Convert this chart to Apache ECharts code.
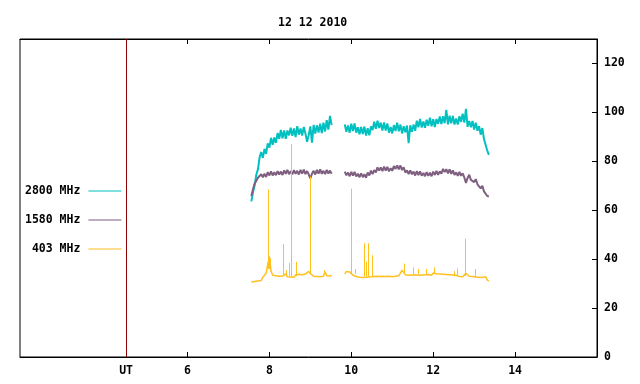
<!DOCTYPE html>
<html>
<head>
<meta charset="utf-8">
<script src="https://cdn.jsdelivr.net/npm/echarts@6/dist/echarts.min.js"></script>
<style>
  html, body { margin: 0; padding: 0; background: #fff; }
  #chart { width: 640px; height: 384px; }
</style>
</head>
<body>
<div id="chart"></div>
<script>
// Tempo (horas UT); null separa os dois trechos de observação
const hours = [
  7.56, 7.60, 7.64, 7.68, 7.72, 7.76, 7.80, 7.84, 7.88, 7.92,
  7.96, 8.00, 8.04, 8.08, 8.12, 8.16, 8.20, 8.24, 8.28, 8.32,
  8.36, 8.40, 8.44, 8.48, 8.52, 8.56, 8.60, 8.64, 8.68, 8.72,
  8.76, 8.80, 8.84, 8.88, 8.92, 8.96, 9.00, 9.04, 9.08, 9.12,
  9.16, 9.20, 9.24, 9.28, 9.32, 9.36, 9.40, 9.44, 9.48, 9.52,
  9.68,
  9.84, 9.88, 9.92, 9.96, 10.00, 10.04, 10.08, 10.12, 10.16, 10.20,
  10.24, 10.28, 10.32, 10.36, 10.40, 10.44, 10.48, 10.52, 10.56, 10.60,
  10.64, 10.68, 10.72, 10.76, 10.80, 10.84, 10.88, 10.92, 10.96, 11.00,
  11.04, 11.08, 11.12, 11.16, 11.20, 11.24, 11.28, 11.32, 11.36, 11.40,
  11.44, 11.48, 11.52, 11.56, 11.60, 11.64, 11.68, 11.72, 11.76, 11.80,
  11.84, 11.88, 11.92, 11.96, 12.00, 12.04, 12.08, 12.12, 12.16, 12.20,
  12.24, 12.28, 12.32, 12.36, 12.40, 12.44, 12.48, 12.52, 12.56, 12.60,
  12.64, 12.68, 12.72, 12.76, 12.80, 12.84, 12.88, 12.92, 12.96, 13.00,
  13.04, 13.08, 13.12, 13.16, 13.20, 13.24, 13.28, 13.32, 13.36
];

// 2800 MHz
const flux2800 = [
  63.6, 67.4, 70.2, 74.5, 76.7, 81.5, 83.8, 81.4, 85.1, 83.0,
  87.3, 85.6, 89.6, 86.8, 89.7, 87.5, 91.6, 89.2, 92.8, 89.4,
  92.6, 89.2, 92.6, 90.6, 93.7, 90.4, 93.4, 89.9, 94.4, 90.9,
  93.4, 90.5, 94.0, 91.4, 88.0, 90.7, 94.3, 87.6, 94.9, 91.3,
  94.7, 91.8, 95.4, 91.5, 95.8, 92.2, 96.8, 93.0, 98.6, 94.8,
  null,
  95.1, 92.1, 94.6, 91.7, 95.4, 92.4, 95.5, 91.7, 93.9, 91.0,
  94.0, 91.2, 94.2, 90.5, 93.5, 90.6, 94.3, 92.8, 96.2, 93.3,
  96.6, 93.6, 95.8, 92.6, 95.9, 92.6, 95.5, 91.7, 94.0, 91.4,
  94.8, 92.4, 95.8, 92.3, 95.0, 91.4, 94.3, 91.9, 94.6, 87.4,
  94.7, 92.1, 95.0, 92.5, 96.6, 93.9, 97.3, 93.8, 96.3, 93.7,
  97.0, 94.5, 97.8, 94.3, 97.2, 94.0, 97.3, 95.3, 98.3, 95.2,
  98.4, 95.6, 101.0, 95.1, 98.6, 95.5, 98.6, 95.0, 97.5, 95.0,
  98.4, 96.1, 99.5, 95.8, 101.4, 94.1, 96.5, 93.9, 96.5, 93.0,
  95.8, 92.5, 94.4, 90.9, 93.6, 89.1, 89.5, 84.4, 82.6
];

// 1580 MHz
const flux1580 = [
  65.8, 68.6, 70.9, 72.0, 73.3, 73.2, 74.7, 73.5, 74.9, 73.6,
  75.6, 74.2, 75.9, 74.2, 75.5, 74.3, 76.0, 74.6, 75.8, 74.4,
  76.3, 74.9, 76.5, 74.7, 76.0, 74.7, 76.4, 74.9, 76.1, 74.6,
  76.5, 75.0, 76.6, 74.8, 76.0, 74.7, 73.0, 74.9, 76.1, 74.6,
  76.5, 75.0, 76.7, 74.9, 76.1, 74.8, 76.5, 75.0, 76.2, 74.9,
  null,
  75.8, 74.3, 75.4, 73.9, 75.7, 74.2, 75.7, 73.8, 74.9, 73.5,
  75.1, 73.5, 74.7, 73.3, 75.4, 74.2, 76.2, 74.8, 76.4, 75.5,
  77.5, 76.2, 77.5, 76.0, 77.8, 76.2, 77.7, 75.9, 77.2, 76.1,
  78.1, 76.9, 78.3, 76.7, 78.3, 76.4, 77.6, 75.4, 76.3, 74.8,
  76.3, 74.7, 75.8, 74.2, 76.0, 74.4, 75.9, 74.1, 75.2, 73.9,
  75.6, 74.1, 75.3, 73.9, 75.8, 74.4, 76.1, 74.5, 75.9, 74.9,
  76.9, 75.6, 76.8, 75.1, 76.7, 74.9, 76.3, 74.4, 75.5, 74.1,
  75.7, 74.1, 75.1, 73.4, 71.2, 73.2, 74.5, 72.4, 73.2, 71.5,
  72.7, 70.6, 71.1, 68.9, 70.0, 67.7, 68.5, 65.8, 65.6
];

// 403 MHz (nível de fundo)
const flux403 = [
  30.7, 31.3, 30.9, 31.4, 31.1, 31.6, 31.3, 32.6, 32.0, 34.2,
  38.0, 40.6, 35.2, 33.4, 32.6, 33.2, 32.5, 33.0, 32.4, 33.1,
  32.6, 34.0, 32.8, 33.4, 32.7, 33.3, 32.6, 33.5, 33.0, 33.8,
  33.1, 33.6, 33.2, 33.9, 34.2, 35.0, 34.1, 33.4, 33.0, 33.6,
  32.9, 33.4, 32.8, 33.5, 33.0, 34.8, 33.2, 33.9, 33.1, 33.4,
  null,
  34.0, 35.0, 34.3, 34.8, 34.1, 33.4, 33.9, 32.9, 33.3, 32.6,
  33.0, 32.5, 33.2, 32.6, 33.1, 32.7, 33.4, 32.8, 33.6, 33.0,
  33.4, 32.9, 33.5, 33.0, 33.4, 32.9, 33.6, 33.0, 33.3, 32.8,
  33.5, 33.0, 33.7, 33.2, 34.0, 35.5, 34.6, 33.6, 34.0, 33.4,
  34.1, 33.5, 34.2, 33.6, 34.0, 33.4, 34.1, 33.5, 34.2, 33.6,
  34.4, 33.7, 34.1, 33.4, 34.3, 33.6, 34.0, 33.4, 33.9, 33.3,
  33.8, 33.2, 33.7, 33.1, 33.6, 33.0, 33.5, 32.9, 33.4, 32.6,
  32.9, 32.4, 32.8, 33.6, 34.2, 33.5, 33.0, 32.6, 32.9, 32.4,
  32.7, 32.2, 32.6, 32.1, 32.5, 32.0, 32.8, 31.5, 31.0
];

// Picos (403 MHz): instante, base, topo
const spikeHours = [
  7.97, 7.99, 8.03, 8.34, 8.42, 8.49, 8.54, 8.65, 9.00, 9.34,
  10.00, 10.09, 10.32, 10.37, 10.42, 10.51, 11.30, 11.51, 11.64, 11.83,
  12.03, 12.52, 12.59, 12.79, 13.03
];
const spikeBase = [
  36, 36, 35, 33, 33, 33, 33, 33, 34, 33.5,
  34, 34, 33, 33, 33, 33, 34, 34, 34, 34,
  34, 33, 33, 33, 32.5
];
const spikePeak = [
  68.5, 41.2, 40.4, 46.2, 35.5, 38.4, 87.0, 38.9, 73.8, 35.5,
  68.8, 36.0, 46.5, 39.0, 46.5, 41.6, 38.2, 36.6, 36.0, 36.0,
  36.6, 35.1, 36.2, 48.4, 36.0
];

const xTickValues = [6, 8, 10, 12, 14];
const xLabelValues = [4.5, 6, 8, 10, 12, 14];
const xLabelTexts = ['UT', '6', '8', '10', '12', '14'];
const yTickValues = [0, 20, 40, 60, 80, 100, 120];
const utLine = 4.5;

const seriesNames = ['2800 MHz', '1580 MHz', '403 MHz'];
const seriesColors = ['#00c0c0', '#7f5f80', '#ffc020'];
const lineWidths = [2, 2, 1.5];

const FONT = 'DejaVu Sans Mono';

function pairs(values) {
  return hours.map((h, i) => [h, values[i]]);
}

const chart = echarts.init(document.getElementById('chart'), null, { renderer: 'canvas' });

const spikeLines = spikeHours.map((h, i) => [
  { coord: [h, spikeBase[i]] },
  { coord: [h, spikePeak[i]] }
]);

const option = {
  animation: false,
  backgroundColor: '#fff',
  title: {
    text: '12 12 2010',
    left: 273,
    top: 12,
    textStyle: { fontFamily: FONT, fontSize: 11.5, fontWeight: 'bold', color: '#000' }
  },
  legend: {
    orient: 'vertical',
    left: 25,
    top: 185,
    padding: 0,
    align: 'right',
    icon: 'rect',
    itemWidth: 33,
    itemHeight: 1,
    itemGap: 17,
    data: seriesNames,
    formatter: name => name.padStart(8, ' '),
    textStyle: { fontFamily: FONT, fontSize: 11.5, fontWeight: 'bold', color: '#000', padding: [0, 3, 0, 0] }
  },
  grid: {
    left: 20,
    right: 43,
    top: 39,
    bottom: 27,
    show: true,
    borderColor: '#000',
    borderWidth: 1,
    backgroundColor: 'transparent'
  },
  xAxis: [
    {
      type: 'value',
      min: 1.91,
      max: 16,
      position: 'bottom',
      splitLine: { show: false },
      axisLine: { show: true, lineStyle: { color: '#000' } },
      axisTick: { show: true, inside: true, length: 5, customValues: xTickValues, lineStyle: { color: '#000' } },
      axisLabel: {
        customValues: xLabelValues,
        margin: 8,
        formatter: v => xLabelTexts[xLabelValues.indexOf(v)],
        fontFamily: FONT, fontSize: 11.5, fontWeight: 'bold', color: '#000'
      }
    },
    {
      type: 'value',
      min: 1.91,
      max: 16,
      position: 'top',
      splitLine: { show: false },
      axisLine: { show: true, lineStyle: { color: '#000' } },
      axisTick: { show: true, inside: true, length: 5, customValues: xTickValues, lineStyle: { color: '#000' } },
      axisLabel: { show: false }
    }
  ],
  yAxis: {
    type: 'value',
    position: 'right',
    min: 0,
    max: 130,
    splitLine: { show: false },
    axisLine: { show: true, lineStyle: { color: '#000' } },
    axisTick: { show: true, inside: true, length: 5, customValues: yTickValues, lineStyle: { color: '#000' } },
    axisLabel: {
      customValues: yTickValues,
      margin: 7,
      fontFamily: FONT, fontSize: 11.5, fontWeight: 'bold', color: '#000'
    }
  },
  series: [
    {
      name: seriesNames[0],
      type: 'line',
      data: pairs(flux2800),
      symbol: 'none',
      connectNulls: false,
      lineStyle: { color: seriesColors[0], width: lineWidths[0] },
      itemStyle: { color: seriesColors[0] },
      markLine: {
        silent: true,
        symbol: ['none', 'none'],
        label: { show: false },
        lineStyle: { color: '#8b0000', type: 'solid', width: 1 },
        data: [{ xAxis: utLine }]
      }
    },
    {
      name: seriesNames[1],
      type: 'line',
      data: pairs(flux1580),
      symbol: 'none',
      connectNulls: false,
      lineStyle: { color: seriesColors[1], width: lineWidths[1] },
      itemStyle: { color: seriesColors[1] }
    },
    {
      name: seriesNames[2],
      type: 'line',
      data: pairs(flux403),
      symbol: 'none',
      connectNulls: false,
      lineStyle: { color: seriesColors[2], width: lineWidths[2] },
      itemStyle: { color: seriesColors[2] },
      markLine: {
        silent: true,
        symbol: ['none', 'none'],
        label: { show: false },
        emphasis: { disabled: true },
        lineStyle: { color: seriesColors[2], type: 'solid', width: 1 },
        data: spikeLines
      }
    }
  ]
};

chart.setOption(option);
</script>
</body>
</html>
